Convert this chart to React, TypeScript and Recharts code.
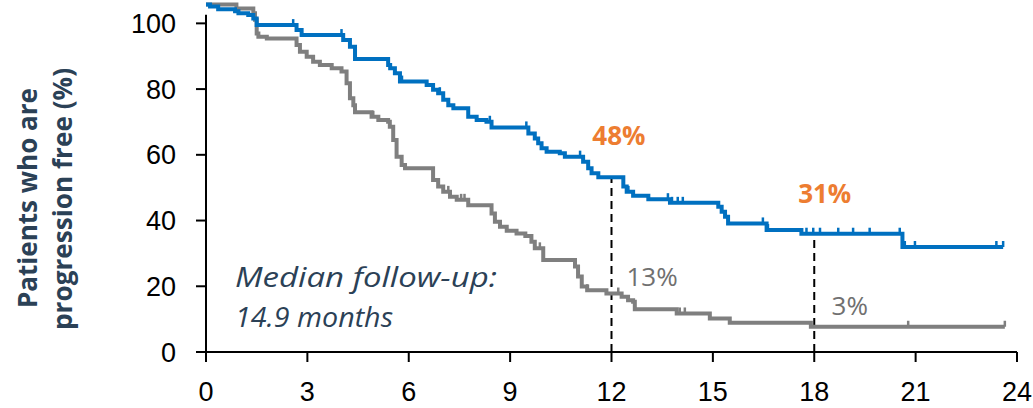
import {
  ComposedChart, Line, Scatter, XAxis, YAxis, ReferenceLine, ReferenceDot,
} from 'recharts';

const MONTH_TICKS = [0, 3, 6, 9, 12, 15, 18, 21, 24];
const PCT_TICKS = [0, 20, 40, 60, 80, 100];

// Kaplan-Meier steps: event time (months) -> % progression free from that time on
const armATimes = [
  0, 0.12, 0.36, 0.86, 0.96, 1.25, 1.4, 1.5, 2.68, 2.83, 4.06, 4.26, 4.41,
  5.39, 5.45, 5.59, 5.74, 6.53, 6.72, 6.87, 7.02, 7.17, 7.32, 7.76, 8.01,
  8.3, 8.45, 9.54, 9.73, 9.83, 9.93, 10.08, 10.47, 10.62, 11.16, 11.31,
  11.41, 11.61, 12.35, 12.45, 12.64, 13.09, 13.73, 15.16, 15.26, 15.36,
  15.45, 16.59, 17.62, 20.61,
];
const armAPfs = [
  100, 99.4, 98.6, 98, 97.4, 96.8, 95.8, 93.8, 92.3, 90.8, 89.3, 87.3, 83.6,
  81.8, 80.8, 79.3, 76.8, 75.8, 74.3, 73.3, 71.3, 69.7, 68.8, 66.2, 65.2,
  64.7, 63, 61.2, 59.7, 58.2, 56.7, 55.7, 55.2, 54.2, 52.7, 50.7,
  49.2, 48, 45.2, 43.6, 42.4, 41.4, 40.3, 39.1, 37.6, 36.1,
  34.1, 32.1, 31, 27,
];
const armACensored = [
  2.58, 4.01, 5.8, 6.92, 8.4, 9.48, 11.07, 12.5, 13.67, 13.79, 13.96, 14.11,
  16.48, 16.63, 17.77, 17.97, 18.17, 18.71, 19.15, 19.64, 20.53, 20.68,
  20.98, 23.39, 23.59,
];

const armBTimes = [
  0, 0.9, 1.4, 1.45, 1.5, 1.55, 1.8, 2.68, 2.78, 2.98, 3.17, 3.37, 3.72,
  4.01, 4.16, 4.26, 4.36, 4.41, 4.9, 5.1, 5.39, 5.44, 5.54, 5.64, 5.79,
  5.89, 6.72, 6.87, 7.02, 7.22, 7.42, 7.76, 8.45, 8.55, 8.7, 8.9, 9.19,
  9.45, 9.63, 9.73, 9.98, 10.92, 11.01, 11.12, 11.28, 11.85, 12.3, 12.49,
  12.64, 12.69, 13.93, 14.91, 15.5, 17.9,
];
const armBPfs = [
  100, 98.8, 97.4, 95.4, 91.3, 90.3, 89.8, 87.8, 85.8, 84.3, 82.8, 81.8, 80.8,
  79.8, 76.3, 71.8, 69.7, 67.6, 66.2, 65.2, 64.7, 63.2, 59.2, 54.2, 51.7,
  50.7, 47.2, 45.2, 43.6, 42.1, 41.2, 39.6, 37.1, 34.6, 33.1, 31.9, 31.1,
  30.3, 28.6, 26.6, 23.1, 21.1, 18.1, 15.1, 14, 13, 12, 11,
  10.5, 8.3, 7, 5.5, 4.2, 3,
];
const armBCensored = [
  4.95, 7.17, 7.55, 7.65, 9.88, 11.28, 12.2, 14.02, 14.17, 20.78, 23.64,
];

const LANDMARKS = [12, 18];

const BLUE = '#0070C0';
const GREY = '#7F7F7F';
const ORANGE = '#ED7D31';
const SLATE = '#2B4156';
const TEXT_FONT = '"Open Sans", sans-serif';
const AXIS_FONT = '"Liberation Sans", Arial, sans-serif';

// curves sit on their own axis, shifted against the printed 0-100 scale
const KM_DOMAIN = [-4.6, 100.75];
const PCT_DOMAIN = [0, 106.5];
const AXIS_TOP = 102.6;

type Pt = { m: number; v: number };

function buildSteps(times: number[], pfs: number[], end: number): Pt[] {
  const pts = times.map((m, i) => ({ m, v: pfs[i] }));
  pts.push({ m: end, v: pfs[pfs.length - 1] });
  return pts;
}

function valueAt(times: number[], pfs: number[], m: number): number {
  let v = pfs[0];
  times.forEach((t, i) => {
    if (t <= m) v = pfs[i];
  });
  return v;
}

const armA = buildSteps(armATimes, armAPfs, 23.59);
const armB = buildSteps(armBTimes, armBPfs, 23.64);
const censorA = armACensored.map((m) => ({ m, v: valueAt(armATimes, armAPfs, m) }));
const censorB = armBCensored.map((m) => ({ m, v: valueAt(armBTimes, armBPfs, m) }));

// vertical axis line, drawn on the printed scale
const yAxisLine: Pt[] = [{ m: 0, v: 0 }, { m: 0, v: AXIS_TOP }];

// label anchors, offset from the landmark point in (months, %)
const labelOffsetA = [{ dx: 0.22, dy: 12.7 }, { dx: 0.31, dy: 12.2 }];
const labelOffsetB = [{ dx: 1.2, dy: 5.3 }, { dx: 1.05, dy: 6.6 }];

const CensorTick = (color: string) => (p: any) => (
  <line x1={p.cx} x2={p.cx} y1={p.cy - 6} y2={p.cy} stroke={color} strokeWidth={2.5} />
);

const textDot = (text: string, style: Record<string, any>) => (p: any) => (
  <text
    x={p.cx}
    y={p.cy}
    textAnchor="middle"
    dominantBaseline="central"
    fontFamily={TEXT_FONT}
    fontSize={26}
    {...style}
  >
    {text}
  </text>
);

export default function App() {
  return (
    <div style={{ position: 'absolute', left: 0, top: 0, width: 1033, height: 408 }}>
      <ComposedChart
        width={1033}
        height={408}
        margin={{ top: 2, right: 16, bottom: 6, left: 126 }}
      >
        <XAxis
          dataKey="m"
          type="number"
          domain={[0, 24]}
          ticks={MONTH_TICKS}
          interval={0}
          height={50}
          tickSize={10}
          tickMargin={20}
          axisLine={{ stroke: '#000', strokeWidth: 2 }}
          tickLine={{ stroke: '#000', strokeWidth: 2 }}
          tick={{ fill: '#000', fontSize: 27, fontFamily: AXIS_FONT }}
        />
        <YAxis
          yAxisId="pct"
          type="number"
          domain={PCT_DOMAIN}
          ticks={PCT_TICKS}
          interval={0}
          width={80}
          tickSize={10}
          tickMargin={20}
          axisLine={false}
          tickLine={{ stroke: '#000', strokeWidth: 2 }}
          tick={{ fill: '#000', fontSize: 27, fontFamily: AXIS_FONT }}
        />
        <YAxis yAxisId="km" type="number" domain={KM_DOMAIN} hide width={0} />

        <Line
          yAxisId="pct"
          data={yAxisLine}
          dataKey="v"
          type="linear"
          stroke="#000"
          strokeWidth={2}
          dot={false}
          activeDot={false}
          isAnimationActive={false}
        />

        {LANDMARKS.map((m) => (
          <ReferenceLine
            key={`lm-${m}`}
            yAxisId="km"
            segment={[
              { x: m, y: KM_DOMAIN[0] },
              { x: m, y: valueAt(armATimes, armAPfs, m) },
            ]}
            stroke="#000"
            strokeWidth={2}
            strokeDasharray="8 5"
          />
        ))}

        <Line
          yAxisId="km"
          data={armB}
          dataKey="v"
          type="stepAfter"
          stroke={GREY}
          strokeWidth={4}
          dot={false}
          activeDot={false}
          isAnimationActive={false}
        />
        <Line
          yAxisId="km"
          data={armA}
          dataKey="v"
          type="stepAfter"
          stroke={BLUE}
          strokeWidth={4}
          dot={false}
          activeDot={false}
          isAnimationActive={false}
        />
        <Scatter
          yAxisId="km"
          data={censorB}
          dataKey="v"
          shape={CensorTick(GREY)}
          isAnimationActive={false}
        />
        <Scatter
          yAxisId="km"
          data={censorA}
          dataKey="v"
          shape={CensorTick(BLUE)}
          isAnimationActive={false}
        />

        {LANDMARKS.map((m, i) => {
          const a = valueAt(armATimes, armAPfs, m);
          const b = valueAt(armBTimes, armBPfs, m);
          return [
            <ReferenceDot
              key={`la-${m}`}
              yAxisId="km"
              x={m + labelOffsetA[i].dx}
              y={a + labelOffsetA[i].dy}
              r={0}
              shape={textDot(`${a}%`, { fill: ORANGE, fontWeight: 700 })}
            />,
            <ReferenceDot
              key={`lb-${m}`}
              yAxisId="km"
              x={m + labelOffsetB[i].dx}
              y={b + labelOffsetB[i].dy}
              r={0}
              shape={textDot(`${b}%`, { fill: '#707070' })}
            />,
          ];
        })}
      </ComposedChart>

      <svg
        width={1033}
        height={408}
        style={{ position: 'absolute', left: 0, top: 0, pointerEvents: 'none' }}
      >
        <g fontFamily={TEXT_FONT} fontWeight={700} fontSize={27} fill={SLATE} textAnchor="middle">
          <text transform="translate(37,198) rotate(-90)" textLength={220} lengthAdjust="spacingAndGlyphs">
            Patients who are
          </text>
          <text transform="translate(72,199) rotate(-90)" textLength={262} lengthAdjust="spacingAndGlyphs">
            progression free (%)
          </text>
        </g>
        <g fontFamily={TEXT_FONT} fontStyle="italic" fontSize={28} fill={SLATE}>
          <text x={235} y={287} textLength={262} lengthAdjust="spacingAndGlyphs">Median follow-up:</text>
          <text x={235} y={327} textLength={158} lengthAdjust="spacingAndGlyphs">14.9 months</text>
        </g>
      </svg>
    </div>
  );
}
